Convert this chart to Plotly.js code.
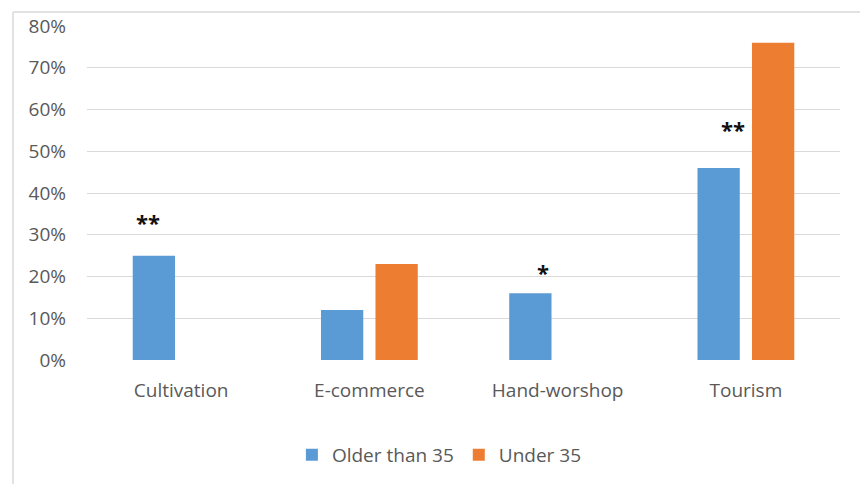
<!DOCTYPE html>
<html>
<head>
<meta charset="utf-8">
<script src="https://cdn.plot.ly/plotly-3.0.1.min.js"></script>
<style>html,body{margin:0;padding:0;background:#fff;}#chart{width:860px;height:484px;}</style>
</head>
<body>
<div id="chart"></div>
<script>
const categories = ["Cultivation", "E-commerce", "Hand-worshop", "Tourism"];
const olderThan35 = [0.25, 0.12, 0.16, 0.46];
const under35 = [null, 0.23, null, 0.76];
const seriesNames = ["Older than 35", "Under 35"];
const yTicks = [0, 0.1, 0.2, 0.3, 0.4, 0.5, 0.6, 0.7, 0.8];
const sigCategories = ["Cultivation", "Hand-worshop", "Tourism"];
const sigMarks = ["**", "*", "**"];
const sigLevels = [0.33, 0.21, 0.553];
const sigShifts = [-33, -15, -13];

const font = "Open Sans, Liberation Sans, Arial, sans-serif";
const data = [
  {type: "bar", x: categories, y: olderThan35, name: seriesNames[0],
   marker: {color: "#5B9BD5", line: {width: 0}}, hoverinfo: "skip"},
  {type: "bar", x: categories, y: under35, name: seriesNames[1],
   marker: {color: "#ED7D31", line: {width: 0}}, hoverinfo: "skip"}
];
const annotations = sigCategories.map((c, i) => ({
  x: c, y: sigLevels[i], xref: "x", yref: "y", xshift: sigShifts[i],
  text: "<b>" + sigMarks[i] + "</b>", showarrow: false,
  font: {family: font, size: 22, color: "#111"}, xanchor: "center", yanchor: "middle"
}));
const layout = {
  width: 860, height: 484,
  margin: {l: 87, r: 20, t: 26, b: 123},
  paper_bgcolor: "#fff", plot_bgcolor: "#fff",
  barmode: "group", bargap: 0.421, bargroupgap: 0.224,
  font: {family: font, size: 19, color: "#595959"},
  xaxis: {type: "category", showgrid: false, zeroline: false, showline: false,
          ticks: "", ticklabelstandoff: 17, tickfont: {size: 19, color: "#595959"}},
  yaxis: {range: [0, 0.8], tickvals: yTicks, tickformat: ".0%", showgrid: true,
          gridcolor: "#d9d9d9", gridwidth: 1, zeroline: false, showline: false,
          ticks: "", ticklabelstandoff: 20, tickfont: {size: 19, color: "#595959"}},
  showlegend: true,
  legend: {orientation: "h", x: 0.468, xanchor: "center", y: -0.28, yanchor: "middle",
           font: {size: 19, color: "#595959"}, itemwidth: 30, traceorder: "normal"},
  annotations: annotations,
  shapes: [
    {type: "line", xref: "paper", yref: "paper", x0: -0.0983, x1: 1.1, y0: 1.0418, y1: 1.0418,
     line: {color: "#d9d9d9", width: 1.5}},
    {type: "line", xref: "paper", yref: "paper", x0: -0.0983, x1: -0.0983, y0: 1.0418, y1: -0.4,
     line: {color: "#d9d9d9", width: 1.5}}
  ]
};
Plotly.newPlot("chart", data, layout, {displayModeBar: false, staticPlot: true});
</script>
</body>
</html>
